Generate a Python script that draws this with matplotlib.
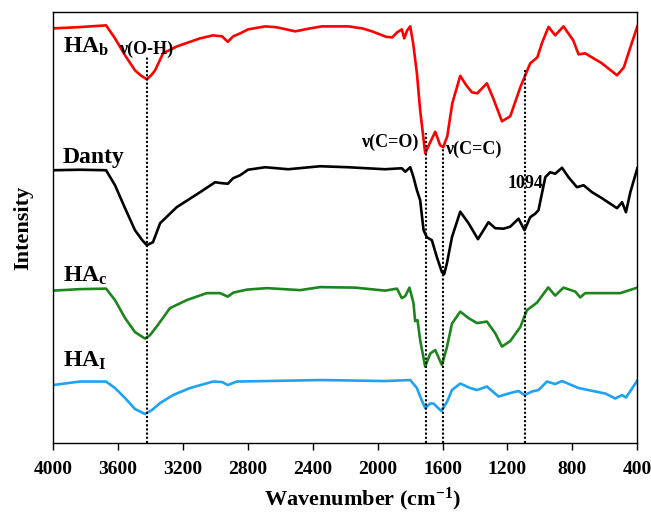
import numpy as np
import matplotlib
matplotlib.use('Agg')
import matplotlib.pyplot as plt

plt.rcParams['font.family'] = ['Liberation Serif', 'DejaVu Serif']
plt.rcParams['font.weight'] = 'bold'
plt.rcParams['mathtext.fontset'] = 'custom'
plt.rcParams['mathtext.rm'] = 'Liberation Serif:bold'
plt.rcParams['mathtext.bf'] = 'Liberation Serif:bold'
plt.rcParams['mathtext.it'] = 'Liberation Serif:bold'

# HA_b (red)
hab_wn = [4000, 3864, 3673, 3618, 3556, 3495, 3460, 3422, 3395, 3371, 3322, 3236, 3094, 3014, 2958,
          2923, 2890, 2847, 2798, 2693, 2619, 2508, 2416, 2342, 2182, 2095, 2034, 1947, 1910, 1880,
          1851, 1836, 1818, 1799, 1781, 1758, 1738, 1707, 1679, 1645, 1615, 1596, 1571, 1540,
          1491, 1454, 1419, 1386, 1327, 1288, 1234, 1183, 1121, 1060, 1016, 986, 947, 906, 855,
          795, 762, 721, 618, 525, 483, 443, 400]
hab_i = [415, 416, 418, 405, 388, 373, 368, 364, 368, 373, 390, 397, 405, 408, 407,
         401.5, 407, 410, 414, 417, 416, 412, 415, 417, 417, 415, 412, 406.5, 406, 411,
         414, 405, 413, 417, 400, 370, 333, 290, 300, 311.5, 298, 296, 307, 340,
         367.5, 358, 351, 350, 360, 345, 322, 327, 356, 380, 386, 401, 416.5, 408, 417,
         403, 389, 390, 380, 368, 376, 396, 417]

# Danty (black)
danty_wn = [4000, 3834, 3673, 3618, 3556, 3495, 3450, 3422, 3384, 3340, 3238, 3094, 3001, 2958, 2923,
            2890, 2847, 2798, 2693, 2551, 2354, 2182, 1954, 1851, 1830, 1799, 1779, 1758, 1738,
            1717, 1697, 1666, 1635, 1604, 1590, 1573, 1542, 1491, 1440, 1382, 1317, 1276, 1224,
            1183, 1132, 1095, 1060, 1029, 1009, 967, 937, 906, 864, 824, 772, 731, 679, 618,
            525, 494, 470, 443, 400]
danty_i = [273, 273.5, 273, 258, 235, 213, 203, 198, 201, 220, 236, 251, 261, 260, 259.5,
           265, 268, 273.5, 276, 274, 277, 276, 274, 275, 271.5, 276, 266, 253, 243,
           213, 206, 203, 186, 171, 169, 180, 206, 231.5, 220, 204, 221, 215, 214.5,
           216.5, 224.5, 213, 226, 229.5, 233, 266, 271, 269.5, 275.5, 266, 256, 258, 251, 245,
           235, 241, 231, 251, 275]

# HA_c (green)
hac_wn = [4000, 3834, 3673, 3618, 3556, 3495, 3433, 3402, 3359, 3279, 3176, 3053, 2971, 2923,
          2889, 2806, 2683, 2477, 2354, 2138, 1954, 1881, 1851, 1830, 1804, 1779, 1769, 1754,
          1738, 1707, 1676, 1645, 1604, 1573, 1542, 1491, 1440, 1388, 1327, 1276, 1234, 1183,
          1121, 1080, 1018, 949, 906, 855, 782, 752, 721, 610, 505, 400]
hac_i = [152.5, 154, 154.5, 143, 125, 111, 104.5, 108, 117, 135, 143, 150, 150, 146.5,
         150.5, 153.5, 155, 153, 156, 155.5, 152.5, 154.5, 145, 147, 155.5, 140, 122, 123,
         103, 76.5, 89.5, 93, 78, 96, 119.5, 131.5, 125, 120, 121.5, 110, 96.5, 102,
         116, 133, 140.5, 155.7, 147.5, 155.5, 151.5, 145.7, 150, 150, 150, 155.5]

# HA_I (blue)
hai_wn = [4000, 3834, 3673, 3618, 3556, 3495, 3433, 3390, 3340, 3260, 3156, 3014, 2958, 2923,
          2868, 2683, 2354, 1954, 1799, 1758, 1738, 1707, 1676, 1656, 1608, 1573, 1542, 1491,
          1430, 1388, 1327, 1255, 1183, 1132, 1095, 1049, 1009, 957, 906, 864, 762, 597, 536,
          494, 470, 400]
hai_i = [58, 61.5, 61.5, 55, 45, 34, 29, 33, 40, 48, 55, 61.5, 61, 58,
         61.5, 62, 63, 62, 63, 55, 46.5, 35, 39.5, 39.5, 32, 41, 53, 59.5,
         55, 53, 56.5, 46.5, 50, 52, 48, 51.5, 53, 61.5, 59, 62, 55, 49.5, 44.5,
         48, 45.5, 62.5]

# dotted marker lines: position and top
mark_wn = [3420, 1705, 1595, 1094]
mark_top = [386, 310, 295, 375]

fig = plt.figure(figsize=(6.51, 5.16), dpi=100)
ax = fig.add_axes([0.0814, 0.1415, 0.8976, 0.8345])

ax.plot(hab_wn, hab_i, color='#ff0000', lw=1.9)
ax.plot(danty_wn, danty_i, color='black', lw=1.9)
ax.plot(hac_wn, hac_i, color='#1e851e', lw=1.9)
ax.plot(hai_wn, hai_i, color='#1ea2f5', lw=1.9)

for w, t in zip(mark_wn, mark_top):
    ax.plot([w, w], [0, t], color='black', lw=1.5, ls=(0, (1, 1)))

ax.set_xlim(4000, 400)
ax.set_ylim(0, 431)
ax.set_xticks(np.arange(4000, 399, -400))
ax.set_yticks([])
ax.tick_params(axis='x', direction='out', length=5, width=1, labelsize=14, pad=8)
for lab in ax.get_xticklabels():
    lab.set_fontweight('bold')
for s in ax.spines.values():
    s.set_linewidth(1.0)

ax.set_xlabel(r'Wavenumber (cm$^{\mathbf{-1}}$)', fontsize=16, fontweight='bold')
ax.xaxis.set_label_coords(0.529, -0.144)
ax.xaxis.label.set_verticalalignment('baseline')
ax.set_ylabel('Intensity', fontsize=16, fontweight='bold', labelpad=14)

# sample labels
ax.text(3940, 391, r'HA$_{\mathbf{b}}$', fontsize=17, fontweight='bold')
ax.text(3940, 280, 'Danty', fontsize=17, fontweight='bold')
ax.text(3940, 161, r'HA$_{\mathbf{c}}$', fontsize=17, fontweight='bold')
ax.text(3940, 76, r'HA$_{\mathbf{I}}$', fontsize=17, fontweight='bold')

# band labels
ax.text(3595, 389, 'ν(O-H)', fontsize=13, fontweight='bold')
ax.text(2100, 296, 'ν(C=O)', fontsize=13, fontweight='bold')
ax.text(1585, 289, 'ν(C=C)', fontsize=13, fontweight='bold')
ax.text(1200, 255, '1094', fontsize=13, fontweight='bold')

fig.savefig('out.png', dpi=100)
